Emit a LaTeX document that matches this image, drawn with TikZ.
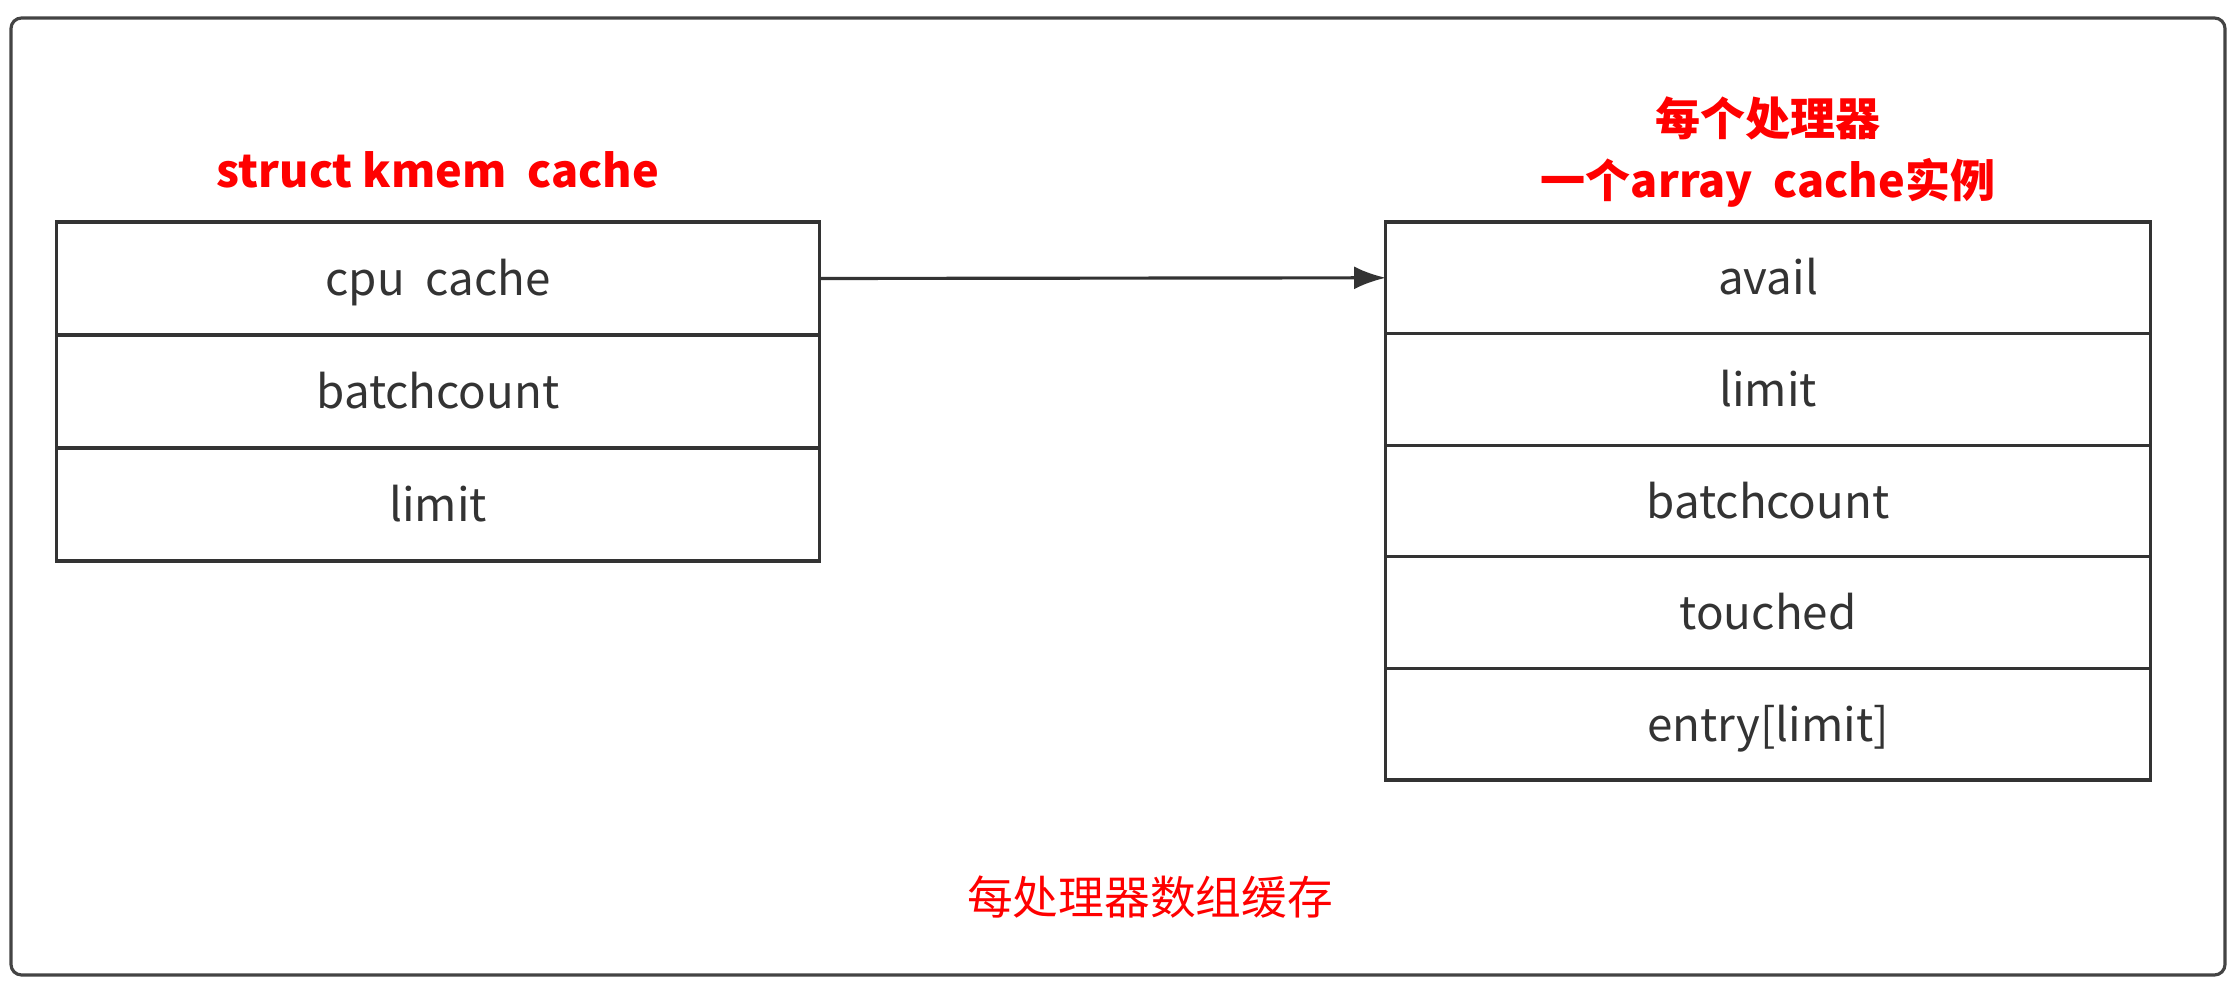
\documentclass[tikz,border=0pt]{standalone}
\usepackage{fontspec}
\setmainfont{Noto Sans CJK SC}
\usetikzlibrary{arrows.meta}

\definecolor{inkgray}{HTML}{333333}
\definecolor{framegray}{HTML}{444444}

\begin{document}
\begin{tikzpicture}[x=0.01cm, y=-0.01cm]
    \useasboundingbox (0, 0) rectangle (2239, 986); % bounding box

    % outer frame
    \draw [framegray, line width=0.9pt, rounded corners=3pt] (11, 18) rectangle (2225, 975);

    % titles
    \begin{scope}[every node/.style={text=red, font=\fontsize{12.8}{17.5}\selectfont\bfseries, align=center}]
        \node at ( 438, 170) (kctitle) {struct kmem\ \ cache};
        \node at (1768, 152) (actitle) {每个处理器\\一个array\ \ cache实例};
        \node at (1150, 897) [font=\fontsize{13}{17}\selectfont] (caption) {每处理器数组缓存};
    \end{scope}

    % struct kmem_cache
    \begin{scope}[every node/.style={draw=inkgray, line width=0.9pt, text=inkgray, outer sep=0pt,
                                     text height=1.8ex, text depth=0pt,
                                     minimum width=7.63cm, minimum height=1.13cm, font=\fontsize{13}{16}\selectfont}]
        \node at ( 438, 278.5) (kc1) {cpu\ \ cache};
        \node at ( 438, 391.5) (kc2) {batchcount};
        \node at ( 438, 504.5) (kc3) {limit};
    \end{scope}

    % array_cache
    \begin{scope}[every node/.style={draw=inkgray, line width=0.9pt, text=inkgray, outer sep=0pt,
                                     text height=1.8ex, text depth=0pt,
                                     minimum width=7.64cm, minimum height=1.116cm, font=\fontsize{13}{16}\selectfont}]
        \node at (1768, 277.8) (ac1) {avail};
        \node at (1768, 389.4) (ac2) {limit};
        \node at (1768, 501.0) (ac3) {batchcount};
        \node at (1768, 612.6) (ac4) {touched};
        \node at (1768, 724.2) (ac5) {entry[limit]};
    \end{scope}

    % pointer
    \draw [inkgray, line width=0.9pt, -{Latex[length=9pt, width=6.5pt]}] (kc1.east) -- (ac1.west);
\end{tikzpicture}
\end{document}
